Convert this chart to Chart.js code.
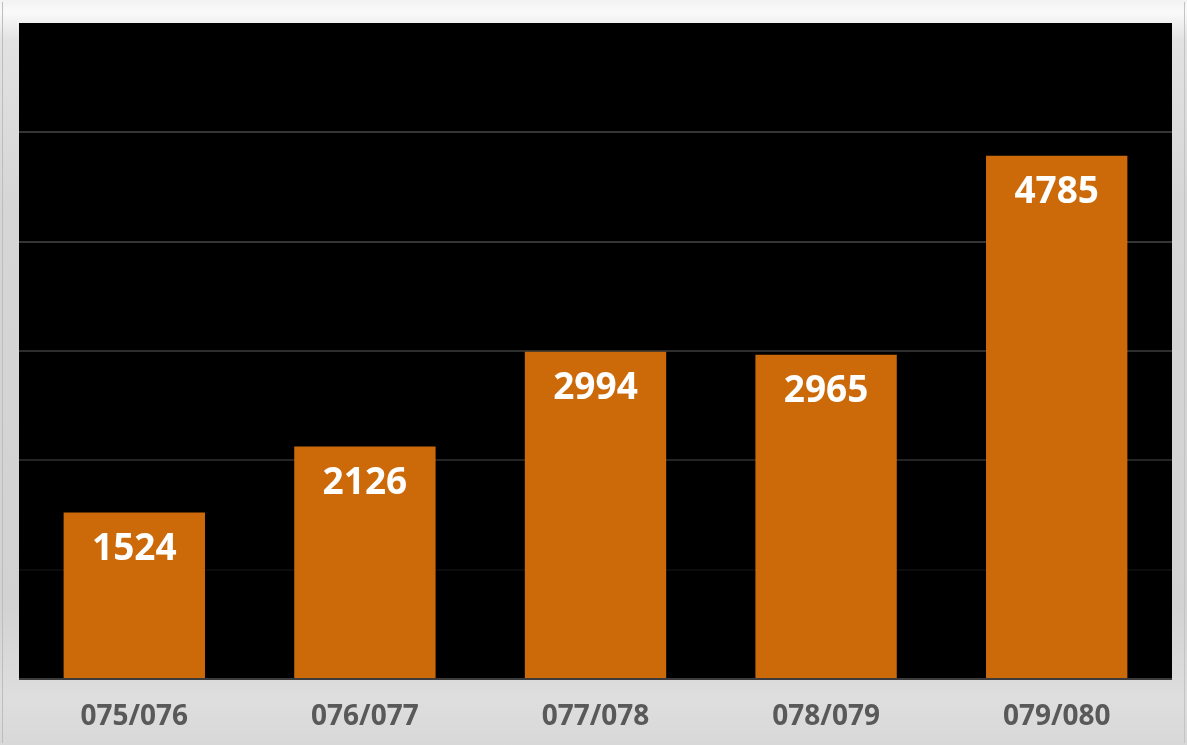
<!DOCTYPE html>
<html>
<head>
<meta charset="utf-8">
<script src="https://cdn.jsdelivr.net/npm/chart.js@4.4.0/dist/chart.umd.min.js"></script>
<style>
  html, body { margin: 0; padding: 0; }
  body { width: 1187px; height: 745px; overflow: hidden;
    background: linear-gradient(to bottom, #f2f2f2 0px, #fafafa 12px, #e2e2e2 40px, #d6d6d6 200px, #d2d2d2 600px, #dedede 700px, #d8d8d8 745px); }
  #wrap { position: absolute; left: 0; top: 0; width: 1187px; height: 745px; }
  #frame { position: absolute; left: 2px; top: 2px; right: 2px; bottom: 2px; border-left: 1px solid #bdbdbd; border-right: 1px solid #c4c4c4; }
</style>
</head>
<body>
<div id="wrap"><div id="frame"></div><canvas id="c" width="1187" height="745"></canvas></div>
<script>
const categories = ["075/076", "076/077", "077/078", "078/079", "079/080"];
const values = [1524, 2126, 2994, 2965, 4785];
const yTicks = [0, 1000, 2000, 3000, 4000, 5000, 6000];

const plotBg = {
  id: 'plotBg',
  beforeDraw(chart) {
    const { ctx, chartArea: a } = chart;
    ctx.save();
    ctx.fillStyle = '#000000';
    ctx.fillRect(a.left, a.top, a.right - a.left, a.bottom - a.top);
    ctx.restore();
  },
  afterDatasetsDraw(chart) {
    const { ctx, chartArea: a } = chart;
    ctx.save();
    ctx.strokeStyle = '#3c3c3c';
    ctx.lineWidth = 2;
    ctx.beginPath();
    ctx.moveTo(a.left, a.bottom);
    ctx.lineTo(a.right, a.bottom);
    ctx.stroke();
    const meta = chart.getDatasetMeta(0);
    ctx.fillStyle = '#ffffff';
    ctx.font = 'bold 37px "Open Sans", "DejaVu Sans", sans-serif';
    ctx.textAlign = 'center';
    ctx.textBaseline = 'middle';
    meta.data.forEach((bar, i) => {
      ctx.fillText(String(values[i]), bar.x, bar.y + 37);
    });
    ctx.restore();
  }
};

new Chart(document.getElementById('c'), {
  type: 'bar',
  data: {
    labels: categories,
    datasets: [{
      data: values,
      backgroundColor: '#CC6A0A',
      borderWidth: 0,
      categoryPercentage: 1,
      barPercentage: 0.613
    }]
  },
  options: {
    responsive: false,
    animation: false,
    devicePixelRatio: 1,
    layout: { padding: { left: 19, right: 15, top: 23, bottom: 0 } },
    plugins: { legend: { display: false }, tooltip: { enabled: false }, title: { display: false } },
    scales: {
      x: {
        grid: { display: false, drawTicks: false },
        border: { display: false },
        ticks: {
          color: '#595959',
          font: { family: '"Open Sans", "DejaVu Sans", sans-serif', size: 28, weight: 'bold' },
          padding: 21
        },
        afterFit(s) { s.height = 66; }
      },
      y: {
        min: 0, max: 6000,
        afterBuildTicks(s) { s.ticks = yTicks.map(v => ({ value: v })); },
        ticks: { display: false },
        border: { display: false },
        grid: {
          drawTicks: false,
          lineWidth: 2,
          color(ctx) {
            const v = ctx.tick ? ctx.tick.value : 0;
            if (v === 0 || v === 6000) return 'rgba(0,0,0,0)';
            if (v === 1000) return '#0c0c0c';
            if (v === 2000) return '#242424';
            if (v === 3000) return '#2e2e2e';
            return '#353535';
          }
        },
        afterFit(s) { s.width = 0; }
      }
    }
  },
  plugins: [plotBg]
});
</script>
</body>
</html>
